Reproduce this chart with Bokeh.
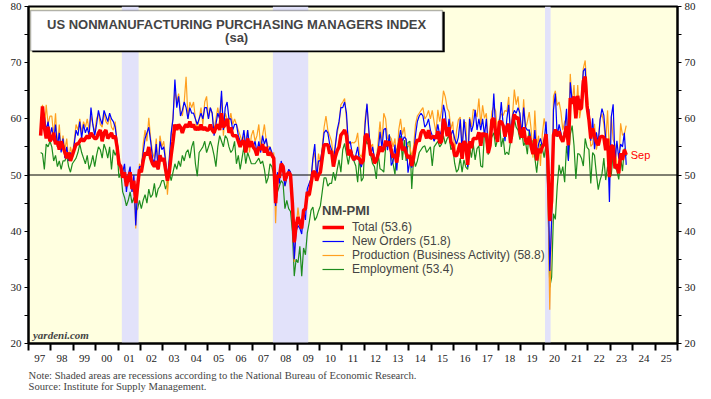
from bokeh.plotting import figure
from bokeh.models import (FixedTicker, LinearAxis, Range1d, BoxAnnotation, Span,
                          Label, Legend, LegendItem, Title, ColumnDataSource)
from bokeh.embed import file_html
from bokeh.resources import INLINE

# ---------------- data (monthly, Jul 1997 .. Sep 2023) ----------------
start_year, start_month = 1997, 7
last_month_label = "Sep"

total = [
    57.0, 62.2, 58.5, 56.5, 58.6, 56.0,  # 1997 H2
    56.5, 57.5, 55.5, 56.0, 54.5, 56.0, 55.0, 54.0, 53.0, 54.0, 52.5, 53.5,  # 1998
    54.5, 55.5, 55.5, 56.0, 56.5, 56.0, 56.5, 57.0, 56.5, 57.5, 57.0, 56.5,  # 1999
    56.5, 57.5, 58.0, 56.0, 57.5, 58.0, 56.5, 57.0, 57.5, 56.5, 57.0, 55.0,  # 2000
    52.0, 51.5, 49.5, 50.5, 48.0, 49.5, 50.5, 47.5, 49.0, 45.0, 48.0, 51.0,  # 2001
    50.5, 52.5, 54.0, 53.5, 55.0, 53.0, 52.0, 51.5, 52.5, 51.0, 53.5, 52.5,  # 2002
    53.0, 51.0, 49.0, 50.5, 53.5, 56.0, 59.0, 58.0, 59.0, 58.5, 57.5, 58.5,  # 2003
    59.0, 58.5, 59.5, 58.5, 59.0, 58.0, 58.5, 58.0, 59.0, 58.0, 58.5, 58.0,  # 2004
    58.0, 59.0, 58.0, 57.5, 58.5, 59.0, 58.0, 61.0, 58.5, 59.0, 60.0, 57.5,  # 2005
    58.5, 57.0, 57.0, 57.0, 56.0, 55.0, 56.0, 56.0, 54.0, 56.5, 55.0, 56.0,  # 2006
    55.0, 54.5, 53.5, 55.0, 54.5, 55.5, 54.0, 55.0, 53.5, 54.0, 53.5, 53.0,  # 2007
    45.0, 50.0, 49.5, 52.0, 51.5, 49.0, 50.0, 50.5, 50.0, 45.0, 38.0, 41.0,  # 2008
    42.5, 41.5, 40.5, 43.7, 44.0, 47.0, 46.4, 48.4, 50.5, 50.6, 49.0, 50.0,  # 2009
    50.5, 53.0, 55.4, 55.4, 55.4, 53.8, 54.3, 51.5, 53.2, 54.3, 55.0, 57.1,  # 2010
    57.5, 58.0, 57.0, 53.5, 54.5, 53.3, 52.7, 53.3, 53.0, 52.9, 52.0, 52.6,  # 2011
    56.8, 57.3, 56.0, 53.5, 53.7, 52.1, 52.6, 53.7, 55.1, 54.2, 54.7, 56.1,  # 2012
    55.2, 56.0, 54.4, 53.1, 53.7, 52.2, 55.0, 56.5, 54.4, 55.0, 53.9, 53.0,  # 2013
    53.5, 51.6, 53.1, 55.2, 56.3, 56.0, 57.5, 58.0, 57.5, 56.5, 58.0, 56.5,  # 2014
    56.7, 56.9, 56.5, 57.8, 55.7, 56.0, 60.0, 59.0, 56.9, 58.5, 55.9, 55.3,  # 2015
    53.5, 53.4, 54.5, 55.7, 52.9, 56.0, 55.5, 51.8, 56.0, 54.8, 56.5, 56.5,  # 2016
    56.5, 57.6, 55.2, 57.5, 56.9, 57.4, 53.9, 55.3, 59.8, 60.1, 57.4, 55.9,  # 2017
    59.5, 59.5, 58.8, 56.8, 58.6, 59.1, 55.7, 58.5, 60.8, 60.0, 60.3, 57.6,  # 2018
    56.7, 58.5, 56.1, 55.5, 56.9, 55.1, 53.7, 56.4, 52.6, 54.7, 53.9, 55.0,  # 2019
    55.5, 57.3, 52.5, 41.8, 45.4, 57.1, 58.1, 56.9, 57.8, 56.6, 55.9, 57.2,  # 2020
    58.7, 55.3, 63.7, 62.7, 64.0, 60.1, 64.1, 61.7, 61.9, 66.7, 67.5, 62.3,  # 2021
    59.9, 56.5, 58.3, 57.1, 55.9, 55.3, 56.7, 56.9, 56.7, 54.4, 56.5, 49.6,  # 2022
    55.2, 55.1, 51.2, 51.9, 50.3, 53.9, 52.7, 54.5, 53.6,  # 2023
]

new_orders = [
    57.5, 62.0, 60.5, 58.0, 59.5, 57.0,
    58.5, 56.0, 59.0, 55.0, 57.5, 54.0, 56.5, 53.0, 55.0, 52.5, 54.0, 53.0,
    55.5, 58.0, 57.0, 59.5, 56.5, 59.0, 57.5, 58.5, 57.0, 62.0, 59.0, 57.0,
    59.0, 61.5, 60.0, 59.0, 61.5, 60.5, 59.5, 61.0, 60.0, 59.5, 58.5, 56.0,
    53.0, 51.0, 50.5, 52.0, 47.0, 50.0, 51.5, 47.0, 50.0, 41.0, 47.5, 51.5,
    51.5, 54.0, 56.5, 57.5, 58.5, 56.0, 53.0, 52.0, 55.5, 51.0, 56.0, 54.5,
    55.0, 52.5, 49.5, 53.0, 57.5, 60.0, 67.0, 62.0, 64.0, 60.5, 61.5, 63.0,
    62.0, 60.0, 62.0, 61.0, 61.0, 60.0, 59.0, 60.0, 61.0, 60.0, 62.0, 62.0,
    60.0, 62.0, 61.0, 57.0, 59.0, 61.0, 60.0, 65.0, 58.0, 62.0, 63.0, 60.0,
    60.0, 58.0, 59.0, 59.0, 57.0, 56.0, 56.0, 58.0, 55.0, 58.0, 55.0, 56.0,
    55.0, 56.0, 54.0, 56.0, 54.0, 57.0, 55.5, 56.5, 54.0, 55.0, 54.0, 53.0,
    44.5, 50.5, 48.5, 52.5, 50.5, 48.0, 49.5, 51.0, 50.5, 44.0, 35.0, 40.0,
    41.0, 40.5, 39.5, 43.6, 42.0, 47.5, 48.5, 49.4, 53.0, 55.5, 49.5, 52.5,
    52.5, 54.5, 57.5, 58.0, 57.5, 55.5, 54.5, 52.5, 55.0, 58.0, 59.5, 62.0,
    62.0, 63.0, 61.0, 55.5, 56.0, 54.0, 52.5, 53.5, 55.0, 52.4, 51.4, 53.1,
    59.0, 62.7, 58.0, 53.5, 55.0, 53.0, 53.0, 54.3, 57.7, 54.8, 58.1, 58.3,
    54.4, 57.2, 51.7, 52.4, 55.4, 50.8, 56.0, 58.0, 56.0, 56.8, 56.4, 50.4,
    52.5, 51.3, 53.4, 57.0, 59.5, 60.5, 61.0, 60.5, 58.5, 59.0, 60.0, 58.0,
    57.0, 56.0, 57.0, 59.0, 57.0, 58.0, 62.5, 61.0, 57.0, 60.0, 57.0, 58.0,
    56.5, 55.5, 56.7, 59.9, 54.2, 59.9, 56.7, 51.4, 60.0, 57.7, 58.9, 61.6,
    58.0, 60.0, 58.0, 60.0, 57.0, 60.0, 55.0, 57.0, 58.5, 64.5, 58.0, 56.5,
    59.0, 63.0, 59.0, 56.0, 60.0, 62.5, 57.0, 60.5, 61.5, 61.0, 62.0, 61.0,
    57.0, 62.0, 58.5, 58.0, 58.0, 56.0, 54.0, 58.0, 53.5, 55.5, 56.5, 55.0,
    56.0, 59.5, 52.9, 32.9, 41.9, 61.6, 64.5, 56.8, 59.0, 57.5, 56.0, 58.0,
    61.8, 52.5, 66.5, 63.2, 63.9, 62.1, 63.7, 63.2, 63.5, 68.5, 69.0, 61.5,
    61.7, 56.1, 60.1, 54.6, 57.6, 55.6, 59.9, 61.8, 60.6, 56.5, 56.0, 45.2,
    60.4, 62.6, 52.2, 56.1, 52.9, 55.5, 55.0, 57.5, 51.8,
]

production = [
    58.5, 62.5, 58.0, 62.5, 59.0, 60.5,
    60.5, 57.0, 61.0, 55.0, 59.0, 54.5, 57.0, 54.5, 56.5, 52.5, 55.0, 53.5,
    56.0, 59.0, 58.0, 60.0, 57.5, 59.5, 58.5, 60.0, 58.0, 60.5, 59.0, 57.5,
    60.0, 61.0, 59.0, 58.5, 61.0, 59.5, 59.0, 60.5, 58.5, 58.0, 59.5, 55.5,
    52.5, 50.5, 49.5, 51.5, 47.5, 49.5, 51.0, 47.0, 49.5, 40.5, 46.0, 52.0,
    51.0, 55.5, 58.0, 56.0, 60.2, 56.5, 54.0, 53.0, 56.5, 51.0, 57.0, 55.0,
    56.0, 53.0, 46.5, 51.0, 57.0, 60.5, 65.0, 63.0, 64.5, 61.5, 60.5, 63.0,
    67.5, 60.0, 63.0, 62.0, 63.0, 60.0, 58.0, 60.0, 62.0, 59.0, 63.0, 64.0,
    60.0, 62.0, 61.0, 58.0, 60.0, 62.0, 60.0, 64.0, 57.0, 61.0, 60.0, 59.0,
    61.0, 59.0, 60.0, 59.0, 58.0, 57.0, 56.0, 57.0, 55.0, 58.0, 54.0, 57.0,
    58.0, 56.0, 57.0, 59.0, 55.0, 57.0, 59.0, 56.0, 55.0, 55.0, 53.0, 54.0,
    41.4, 50.3, 50.0, 52.0, 51.7, 48.0, 49.5, 51.0, 50.5, 44.5, 34.5, 40.5,
    44.2, 41.2, 40.2, 43.2, 44.1, 47.0, 46.1, 48.2, 52.7, 54.0, 49.6, 53.8,
    52.0, 55.0, 58.5, 60.5, 58.0, 57.0, 56.0, 53.0, 55.5, 57.5, 59.0, 62.5,
    63.0, 63.6, 60.0, 56.0, 55.5, 55.8, 55.7, 56.0, 57.5, 53.7, 53.2, 54.6,
    60.0, 62.5, 57.5, 55.0, 55.5, 52.0, 52.5, 56.0, 59.5, 55.5, 61.0, 60.0,
    56.4, 56.9, 56.5, 55.0, 56.5, 52.1, 58.0, 60.0, 57.2, 58.5, 55.5, 55.2,
    55.0, 53.3, 55.0, 59.0, 60.5, 61.0, 61.5, 62.0, 60.0, 60.5, 61.5, 60.0,
    61.5, 59.4, 57.5, 61.6, 59.5, 61.5, 65.0, 63.9, 61.9, 61.2, 58.2, 59.5,
    53.9, 57.8, 59.8, 60.3, 55.1, 59.5, 59.3, 51.8, 60.3, 58.5, 61.7, 61.4,
    60.3, 63.6, 58.9, 62.4, 60.1, 61.0, 55.9, 57.9, 61.3, 62.2, 61.4, 57.1,
    59.8, 60.9, 60.6, 61.5, 61.3, 63.9, 56.5, 60.5, 65.2, 62.5, 64.0, 59.9,
    57.4, 63.5, 58.2, 59.5, 61.2, 58.2, 53.1, 61.5, 55.2, 57.0, 51.6, 57.2,
    60.1, 57.8, 48.0, 26.0, 41.0, 64.0, 65.0, 62.4, 63.0, 61.2, 58.0, 59.5,
    60.0, 55.5, 68.0, 62.7, 66.0, 60.4, 66.0, 60.1, 62.3, 69.0, 70.4, 65.0,
    59.9, 55.1, 55.5, 59.1, 54.5, 56.1, 59.9, 60.9, 59.1, 55.7, 61.5, 53.5,
    60.4, 56.3, 55.4, 52.0, 51.5, 59.2, 57.1, 57.3, 58.8,
]

employment = [
    54.0, 53.8, 51.0, 55.5, 55.0, 56.0,
    55.0, 52.5, 53.5, 51.5, 52.5, 51.0, 52.5, 52.5, 53.5, 51.5, 50.5, 52.0,
    52.5, 53.0, 54.0, 55.5, 54.0, 53.0, 52.0, 53.5, 51.0, 52.0, 53.5, 51.5,
    53.5, 55.0, 54.5, 53.0, 55.5, 54.5, 53.0, 55.0, 51.0, 54.5, 53.5, 54.5,
    49.5, 50.5, 47.0, 46.0, 44.5, 45.5, 47.0, 45.0, 46.0, 43.5, 44.0, 45.5,
    44.0, 45.5, 46.5, 45.0, 47.5, 46.0, 46.5, 48.5, 46.0, 47.5, 48.0, 49.0,
    49.0, 47.5, 48.5, 50.5, 49.0, 50.5, 52.0, 51.0, 52.5, 51.5, 53.5, 52.5,
    54.0, 54.5, 53.0, 55.0, 56.0, 52.0, 49.8, 54.0, 54.5, 55.0, 56.0, 54.0,
    55.0, 56.0, 55.0, 53.5, 51.5, 55.0, 57.0, 56.0, 55.0, 57.0, 56.5, 55.0,
    54.0, 54.5, 56.0, 52.0, 53.5, 51.0, 53.0, 55.0, 52.0, 54.0, 53.0, 52.0,
    52.0, 52.0, 52.5, 53.0, 52.0, 52.5, 51.0, 48.5, 49.5, 52.0, 51.5, 50.0,
    45.0, 47.0, 48.0, 49.0, 48.5, 44.0, 45.5, 44.0, 43.5, 40.0, 32.0, 35.0,
    34.4, 37.3, 32.0, 37.0, 35.8, 39.7, 41.5, 43.7, 44.3, 41.9, 42.5, 43.6,
    44.5, 47.0, 49.5, 49.5, 48.0, 48.5, 48.5, 50.5, 49.0, 50.9, 52.7, 50.5,
    54.5, 55.6, 53.7, 51.9, 54.0, 54.1, 52.5, 51.6, 48.7, 53.3, 48.9, 49.5,
    57.0, 55.5, 56.0, 53.5, 52.0, 51.5, 49.3, 53.8, 51.1, 50.9, 50.5, 55.0,
    55.3, 57.2, 53.3, 52.0, 50.1, 54.7, 53.2, 57.0, 52.7, 56.2, 52.5, 55.8,
    56.0, 47.5, 53.0, 51.5, 52.5, 54.0, 54.5, 55.0, 55.2, 54.0, 54.5, 55.0,
    51.6, 55.0, 55.5, 56.0, 55.0, 55.5, 57.0, 55.5, 56.5, 57.0, 54.5, 55.0,
    52.1, 50.5, 51.0, 53.0, 50.5, 52.7, 51.4, 51.0, 55.0, 53.1, 55.5, 52.7,
    54.7, 55.2, 51.6, 51.4, 57.8, 55.8, 53.6, 56.2, 56.8, 57.5, 55.0, 56.3,
    60.0, 55.0, 56.6, 53.6, 54.1, 53.6, 56.1, 56.7, 60.0, 58.5, 58.0, 56.3,
    57.8, 55.2, 55.9, 53.7, 58.1, 55.0, 56.2, 53.1, 50.4, 53.7, 55.5, 54.8,
    53.1, 55.6, 47.0, 30.0, 31.8, 43.1, 42.1, 47.9, 51.8, 50.1, 51.5, 48.7,
    55.2, 52.7, 57.2, 58.8, 55.3, 49.3, 53.8, 53.7, 53.0, 51.6, 56.5, 54.9,
    54.5, 48.5, 54.0, 53.5, 50.2, 47.4, 49.1, 50.2, 53.0, 49.1, 51.5, 49.8,
    50.0, 54.0, 51.3, 50.8, 49.2, 53.1, 50.7, 54.7, 53.4,
]

recession_starts = [2001.17, 2007.92, 2020.08]
recession_ends = [2001.92, 2009.50, 2020.33]

year_labels = ["97", "98", "99", "00", "01", "02", "03", "04", "05", "06", "07", "08", "09",
               "10", "11", "12", "13", "14", "15", "16", "17", "18", "19", "20", "21", "22",
               "23", "24", "25"]
y_ticks = [20, 30, 40, 50, 60, 70, 80]

# ---------------- build ----------------
n = len(total)
xs = [start_year + (start_month - 1 + i + 0.5) / 12.0 for i in range(n)]
src = ColumnDataSource(dict(x=xs, total=total, no=new_orders, pr=production, em=employment))

x0 = 1997
x1 = x0 + len(year_labels)

p = figure(frame_width=649, frame_height=337, x_range=Range1d(x0, x1), y_range=Range1d(20, 80),
           output_backend="svg", toolbar_location=None,
           x_axis_type=None, y_axis_type=None,
           min_border_left=28, min_border_right=26, min_border_top=6, min_border_bottom=4,
           background_fill_color="#FFFFE0", border_fill_color="white")
p.outline_line_color = "black"
p.outline_line_width = 2
p.xgrid.visible = False
p.ygrid.visible = False

serif = "Liberation Serif"
sans = "Liberation Sans"

def yaxis():
    return LinearAxis(ticker=FixedTicker(ticks=y_ticks,
                                         minor_ticks=[t + 5 for t in y_ticks[:-1]]),
                      major_label_text_font=serif, major_label_text_font_size="11px",
                      major_label_text_color="#222222",
                      major_tick_out=4, major_tick_in=0, minor_tick_out=4, minor_tick_in=0,
                      major_tick_line_width=1, minor_tick_line_width=1,
                      axis_line_width=2, major_label_standoff=3)

p.add_layout(yaxis(), "left")
p.add_layout(yaxis(), "right")

mids = [x0 + i + 0.5 for i in range(len(year_labels))]
bounds = [x0 + i for i in range(len(year_labels) + 1)]
xaxis = LinearAxis(ticker=FixedTicker(ticks=mids, minor_ticks=bounds),
                   major_label_overrides={m: lab for m, lab in zip(mids, year_labels)},
                   major_label_text_font=serif, major_label_text_font_size="11px",
                   major_label_text_color="#222222",
                   major_tick_out=0, major_tick_in=0, minor_tick_out=7, minor_tick_in=0,
                   minor_tick_line_width=2, axis_line_width=2, major_label_standoff=4)
p.add_layout(xaxis, "below")

p.add_layout(Title(text="Note: Shaded areas are recessions according to the National Bureau of Economic Research.\n"
                        "Source: Institute for Supply Management.",
                   align="left", text_font=serif, text_font_size="10.6px", text_font_style="normal",
                   text_line_height=1.02, standoff=7, offset=0), "below")

for a, b in zip(recession_starts, recession_ends):
    p.add_layout(BoxAnnotation(left=a, right=b, fill_color="#E2E2FA", fill_alpha=1.0,
                               line_alpha=0, level="underlay"))
p.add_layout(Span(location=50, dimension="width", line_color="black", line_width=1,
                  level="underlay"))

r_em = p.line("x", "em", source=src, line_color="#1E8C1E", line_width=1.2)
r_pr = p.line("x", "pr", source=src, line_color="#FFA020", line_width=1.2)
r_no = p.line("x", "no", source=src, line_color="#0000FF", line_width=1.2)
r_tot = p.line("x", "total", source=src, line_color="#FF0000", line_width=3.5)

# title box with shadow
p.add_layout(BoxAnnotation(left=1997.17, right=2015.6, top=79.05, bottom=71.85,
                           fill_color="black", fill_alpha=1, line_alpha=0))
p.add_layout(BoxAnnotation(left=1997.09, right=2015.5, top=79.3, bottom=72.1,
                           fill_color="white", fill_alpha=1, line_color="black", line_width=1.5))
p.add_layout(Label(x=2006.3, y=76.8, text="US NONMANUFACTURING PURCHASING MANAGERS INDEX",
                   text_font=sans, text_font_style="bold", text_font_size="13px",
                   text_align="center", text_baseline="middle"))
p.add_layout(Label(x=2006.3, y=74.5, text="(sa)",
                   text_font=sans, text_font_style="bold", text_font_size="13px",
                   text_align="center", text_baseline="middle"))

p.add_layout(Label(x=1997.2, y=21.6, text="yardeni.com", text_font=serif,
                   text_font_style="bold italic", text_font_size="11px", text_baseline="middle"))
p.add_layout(Label(x=xs[-1] + 0.2, y=total[-1], text=last_month_label, text_color="#FF0000",
                   text_font=sans, text_font_size="11px", text_baseline="middle"))

legend = Legend(items=[
    LegendItem(label=f"Total ({total[-1]:.1f})", renderers=[r_tot]),
    LegendItem(label=f"New Orders ({new_orders[-1]:.1f})", renderers=[r_no]),
    LegendItem(label=f"Production (Business Activity) ({production[-1]:.1f})", renderers=[r_pr]),
    LegendItem(label=f"Employment ({employment[-1]:.1f})", renderers=[r_em]),
], title="NM-PMI", location=(294, 67), background_fill_alpha=0, border_line_alpha=0,
    label_text_font=sans, label_text_font_size="12px", label_text_line_height=1.0,
    title_text_font=sans, title_text_font_style="bold", title_text_font_size="13px",
    glyph_width=22, glyph_height=12, label_height=12, spacing=0, padding=0, margin=0,
    label_standoff=8, title_standoff=2)
p.add_layout(legend)

open("out.html", "w").write(file_html(p, INLINE))
